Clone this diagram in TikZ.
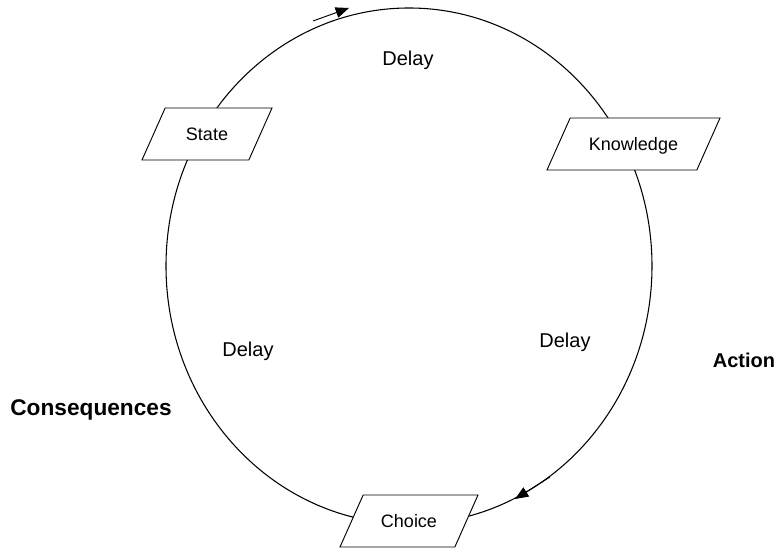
\documentclass[tikz,border=0pt]{standalone}
\usepackage{fontspec}
\setmainfont{Liberation Sans}
\usetikzlibrary{shapes.geometric,arrows.meta}

\tikzset{
  stagebox/.style={draw, fill=white, trapezium, trapezium left angle=66, trapezium right angle=114,
    trapezium stretches body=true, text height=11.5pt, text depth=1.5pt, inner ysep=13pt, inner xsep=0.75pt,
    line width=0.7pt, font=\fontsize{13.5}{16}\selectfont},
  delaytext/.style={inner sep=0.75pt, font=\fontsize{15}{18}\selectfont},
  sidetext/.style={inner sep=0.75pt, font=\fontsize{15}{18}\selectfont\bfseries},
  flow/.style={line width=0.7pt, -{Triangle[length=10pt,width=8pt]}}
}

\begin{document}
\begin{tikzpicture}[x=0.75pt,y=0.75pt,yscale=-1,xscale=1]
\useasboundingbox (0,0) rectangle (779,548);

%Shape: Ellipse [loop]
\draw [line width=0.8pt] (409,266) ellipse [x radius=243, y radius=258];

%Arrow marks on the loop
\coordinate (topTail) at (313,21);
\coordinate (topTip) at (349,8);
\draw [flow] (topTail) -- (topTip);
\coordinate (lowTail) at (550,477);
\coordinate (lowTip) at (515,499);
\draw [flow] (lowTail) -- (lowTip);

%Shape: Parallelograms [stages]
\node [stagebox, minimum width=97.5pt] (state) at (207,134) {State};
\node [stagebox, minimum width=129.75pt] (knowledge) at (633.5,144) {Knowledge};
\node [stagebox, minimum width=103.5pt] (choice) at (409,521) {Choice};

% Text Node
\node [delaytext] (delayTop) at (408,60) {Delay};
% Text Node
\node [delaytext] (delayLeft) at (248,351) {Delay};
% Text Node
\node [delaytext] (delayRight) at (565,342) {Delay};
% Text Node
\node [sidetext] (action) at (744,360) {Action};
% Text Node
\node [sidetext, font=\fontsize{17}{20}\selectfont\bfseries] (consequences) at (91,410) {Consequences};

\end{tikzpicture}
\end{document}
